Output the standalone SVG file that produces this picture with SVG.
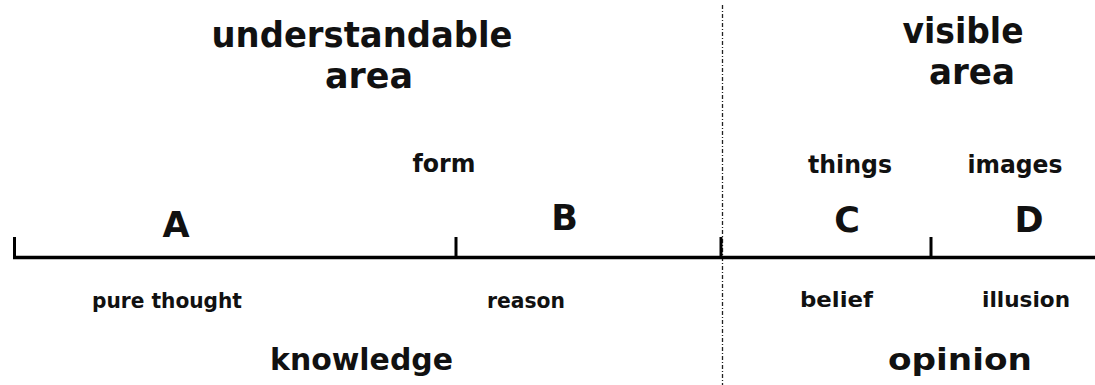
<svg xmlns="http://www.w3.org/2000/svg" width="1095" height="385" viewBox="0 0 1095 385">
<style>
text{font-family:"DejaVu Sans","Liberation Sans",sans-serif;font-weight:bold;fill:#111;text-anchor:middle}
.big{font-size:36px}
.mid{font-size:30px}
.top{font-size:24px}
.sm{font-size:21px}
.let{font-size:35px}
.axis{stroke:#000;stroke-width:3.5;fill:none}
.tick{stroke:#000;stroke-width:3;fill:none}
.div{stroke:#222;stroke-width:1.3;stroke-dasharray:4 2 1 2;fill:none}
</style>
<rect width="1095" height="385" fill="#fff"/>
<g id="connectors">
<line class="div" x1="722.5" y1="5" x2="722.5" y2="385"/>
<line class="axis" x1="13" y1="257.5" x2="1095" y2="257.5"/>
<line class="tick" x1="14.5" y1="237" x2="14.5" y2="259"/>
<line class="tick" x1="456" y1="237" x2="456" y2="259"/>
<line class="tick" x1="721" y1="237" x2="721" y2="259"/>
<line class="tick" x1="931" y1="237" x2="931" y2="259"/>
</g>
<g id="understandable-area">
<text class="big" x="362" y="47" textLength="301" lengthAdjust="spacingAndGlyphs">understandable</text>
<text class="big" x="369" y="88" textLength="88" lengthAdjust="spacingAndGlyphs">area</text>
</g>
<g id="visible-area">
<text class="big" x="963" y="43" textLength="121" lengthAdjust="spacingAndGlyphs">visible</text>
<text class="big" x="972" y="84" textLength="86" lengthAdjust="spacingAndGlyphs">area</text>
</g>
<g id="form"><text class="top" x="444" y="172" textLength="63" lengthAdjust="spacingAndGlyphs">form</text></g>
<g id="things"><text class="top" x="850" y="173" textLength="84" lengthAdjust="spacingAndGlyphs">things</text></g>
<g id="images"><text class="top" x="1015" y="173" textLength="95" lengthAdjust="spacingAndGlyphs">images</text></g>
<g id="A"><text class="let" x="176" y="237">A</text></g>
<g id="B"><text class="let" x="564.5" y="230">B</text></g>
<g id="C"><text class="let" x="847" y="232">C</text></g>
<g id="D"><text class="let" x="1029" y="232">D</text></g>
<g id="pure-thought"><text class="sm" x="167" y="308" textLength="150" lengthAdjust="spacingAndGlyphs">pure thought</text></g>
<g id="reason"><text class="sm" x="526" y="308" textLength="78" lengthAdjust="spacingAndGlyphs">reason</text></g>
<g id="belief"><text class="sm" x="836.5" y="307" textLength="73" lengthAdjust="spacingAndGlyphs">belief</text></g>
<g id="illusion"><text class="sm" x="1026" y="307" textLength="88" lengthAdjust="spacingAndGlyphs">illusion</text></g>
<g id="knowledge"><text class="mid" x="361.5" y="370" textLength="183" lengthAdjust="spacingAndGlyphs">knowledge</text></g>
<g id="opinion"><text class="mid" x="960" y="370" textLength="144" lengthAdjust="spacingAndGlyphs">opinion</text></g>
</svg>
